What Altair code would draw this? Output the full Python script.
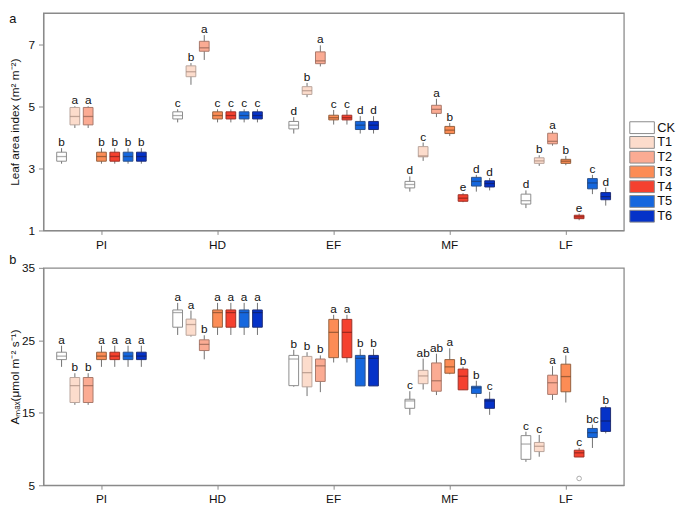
import altair as alt
import pandas as pd

stages = ["PI", "HD", "EF", "MF", "LF"]
treats = ["CK", "T1", "T2", "T3", "T4", "T5", "T6"]
fills = ["#ffffff", "#fcdccc", "#fbab93", "#fc8c55", "#f5412f", "#1567de", "#0532c8"]
edges = ["#8c8c8c", "#b9a49b", "#a8786a", "#94613f", "#9a3127", "#2e5289", "#1f2d74"]
medians = ["#8c8c8c", "#a88a7e", "#8f5f50", "#7d4a2b", "#7d2018", "#1c3a6e", "#101d5c"]

# Leaf area index: [stage][treatment]
lai_lower = [[3.15, 4.30, 4.30, 3.15, 3.15, 3.15, 3.15],
             [4.48, 5.69, 6.49, 4.48, 4.48, 4.48, 4.48],
             [4.12, 5.29, 6.28, 4.41, 4.41, 4.12, 4.12],
             [2.25, 3.24, 4.65, 4.04, 1.91, 2.25, 2.29],
             [1.72, 3.08, 3.73, 3.10, 1.33, 2.17, 1.80]]
lai_q1 = [[3.23, 4.40, 4.40, 3.23, 3.23, 3.23, 3.23],
          [4.59, 5.95, 6.77, 4.59, 4.59, 4.59, 4.59],
          [4.27, 5.38, 6.37, 4.56, 4.56, 4.25, 4.25],
          [2.37, 3.37, 4.77, 4.12, 1.94, 2.43, 2.40],
          [1.85, 3.16, 3.79, 3.16, 1.38, 2.34, 1.99]]
lai_med = [[3.38, 4.67, 4.67, 3.38, 3.38, 3.38, 3.38],
           [4.70, 6.11, 6.88, 4.70, 4.70, 4.70, 4.70],
           [4.39, 5.50, 6.46, 4.63, 4.63, 4.39, 4.39],
           [2.48, 3.40, 4.90, 4.23, 2.04, 2.58, 2.51],
           [1.96, 3.24, 3.87, 3.23, 1.44, 2.53, 2.09]]
lai_q3 = [[3.52, 4.96, 4.96, 3.52, 3.52, 3.52, 3.52],
          [4.82, 6.30, 7.09, 4.82, 4.82, 4.82, 4.82],
          [4.51, 5.63, 6.75, 4.71, 4.71, 4.51, 4.51],
          [2.58, 3.70, 5.03, 4.35, 2.15, 2.71, 2.60],
          [2.17, 3.34, 4.13, 3.29, 1.49, 2.67, 2.22]]
lai_upper = [[3.65, 5.00, 5.00, 3.65, 3.65, 3.65, 3.65],
             [4.90, 6.39, 7.29, 4.90, 4.90, 4.90, 4.90],
             [4.65, 5.75, 6.96, 4.88, 4.88, 4.68, 4.68],
             [2.74, 3.83, 5.24, 4.46, 2.20, 2.79, 2.69],
             [2.29, 3.42, 4.20, 3.40, 1.54, 2.79, 2.38]]
lai_letters = [["b", "a", "a", "b", "b", "b", "b"],
               ["c", "b", "a", "c", "c", "c", "c"],
               ["d", "b", "a", "c", "c", "d", "d"],
               ["d", "c", "a", "b", "e", "d", "d"],
               ["d", "b", "a", "b", "e", "c", "d"]]

# Amax: [stage][treatment]
amax_lower = [[21.34, 16.10, 16.10, 21.34, 21.34, 21.34, 21.34],
              [25.74, 25.51, 22.38, 25.74, 25.74, 25.74, 25.74],
              [18.60, 17.31, 17.85, 21.94, 21.94, 18.71, 18.71],
              [14.72, 18.21, 17.45, 20.32, 18.17, 17.10, 14.72],
              [8.23, 8.94, 16.77, 16.42, 8.90, 10.15, 12.16]]
amax_q1 = [[22.34, 16.42, 16.42, 22.34, 22.34, 22.34, 22.34],
           [26.81, 25.70, 23.59, 26.81, 26.81, 26.81, 26.81],
           [18.75, 18.58, 19.33, 22.61, 22.61, 18.71, 18.71],
           [15.62, 19.02, 17.98, 20.46, 18.17, 17.67, 15.62],
           [8.58, 9.65, 17.54, 17.90, 8.90, 11.59, 12.43]]
amax_med = [[22.82, 18.75, 18.75, 22.82, 22.82, 22.82, 22.82],
            [28.83, 27.18, 24.44, 28.83, 28.83, 28.83, 28.83],
            [22.42, 20.54, 21.48, 26.10, 26.10, 22.51, 22.51],
            [16.64, 20.09, 19.42, 21.34, 20.05, 18.44, 16.64],
            [10.69, 10.38, 19.15, 20.00, 9.48, 12.26, 13.87]]
amax_q3 = [[23.36, 19.87, 19.87, 23.36, 23.36, 23.36, 23.36],
           [29.19, 27.93, 25.07, 29.19, 29.19, 29.19, 29.19],
           [22.92, 22.78, 22.42, 27.89, 27.89, 22.92, 22.92],
           [16.87, 20.86, 21.88, 22.34, 21.03, 18.66, 16.87],
           [11.85, 10.91, 20.19, 21.71, 9.84, 12.84, 15.70]]
amax_upper = [[24.26, 20.46, 20.46, 24.26, 24.26, 24.26, 24.26],
              [30.17, 29.10, 25.70, 30.17, 30.17, 30.17, 30.17],
              [23.70, 23.36, 22.92, 28.52, 28.52, 23.80, 23.80],
              [17.98, 22.47, 23.15, 23.90, 21.34, 19.42, 17.90],
              [12.39, 11.94, 21.44, 22.92, 10.15, 13.37, 15.97]]
amax_letters = [["a", "b", "b", "a", "a", "a", "a"],
                ["a", "a", "b", "a", "a", "a", "a"],
                ["b", "b", "b", "a", "a", "b", "b"],
                ["c", "ab", "ab", "a", "b", "b", "c"],
                ["c", "c", "a", "a", "c", "bc", "b"]]

amax_outlier_stage = ["LF"]
amax_outlier_treat = ["T4"]
amax_outlier_value = [5.94]

FONT = "Liberation Sans"
W = 590
H = 221
AXIS_GRAY = "#8a8a8a"


def make_df(lo, q1, md, q3, hi, let):
    rows = []
    for i, s in enumerate(stages):
        for j, t in enumerate(treats):
            rows.append(dict(stage=s, treat=t, lo=lo[i][j], q1=q1[i][j], md=md[i][j],
                             q3=q3[i][j], hi=hi[i][j], let=let[i][j],
                             edge=edges[j], medc=medians[j]))
    return pd.DataFrame(rows)


def panel(df, ydom, tick_vals, label_expr, ytitle, tag, tag_y, show_legend, outliers=None):
    x = alt.X("stage:N", sort=stages,
              scale=alt.Scale(domain=stages, paddingInner=0, paddingOuter=0),
              axis=alt.Axis(title=None, labelAngle=0, tickSize=4, labelPadding=5,
                            domainColor=AXIS_GRAY, tickColor=AXIS_GRAY,
                            labelFontSize=12, labelFont=FONT, labelColor="#111"))
    xo = alt.XOffset("treat:N", sort=treats,
                     scale=alt.Scale(domain=treats, paddingInner=0.27, paddingOuter=1.0))
    yscale = alt.Scale(domain=ydom, nice=False, zero=False)
    yaxis = alt.Axis(values=tick_vals, labelExpr=label_expr, title=ytitle, grid=False,
                     tickSize=5, labelPadding=4, domainColor=AXIS_GRAY, tickColor=AXIS_GRAY,
                     labelFontSize=12, labelFont=FONT, labelColor="#111",
                     titleFont=FONT, titleFontSize=12, titleFontWeight="normal",
                     titleColor="#111", titleX=-22)
    base = alt.Chart(df).encode(x=x, xOffset=xo)
    whisk = base.mark_rule(color="#707070", strokeWidth=1).encode(
        y=alt.Y("lo:Q", scale=yscale, axis=yaxis), y2="hi:Q")
    if show_legend:
        leg = alt.Legend(title=None, orient="none", legendX=W + 12, legendY=110,
                         symbolType="M-2.08,-1H2.08V1H-2.08Z", symbolSize=144,
                         symbolStrokeColor="#8a8a8a", symbolStrokeWidth=1,
                         symbolOpacity=1, labelFontSize=13, labelFont=FONT,
                         labelColor="#111", labelOffset=9, rowPadding=-3)
    else:
        leg = None
    box = base.mark_bar(strokeWidth=1, opacity=1).encode(
        y="q1:Q", y2="q3:Q",
        color=alt.Color("treat:N", scale=alt.Scale(domain=treats, range=fills), legend=leg),
        stroke=alt.Stroke("edge:N", scale=None))
    med = base.mark_tick(size=10, thickness=1.3).encode(
        y="md:Q", fill=alt.Fill("medc:N", scale=None))
    letters = base.mark_text(baseline="alphabetic", dy=-2, fontSize=12, font=FONT,
                             fill="#111111").encode(y="hi:Q", text="let:N")
    tagc = alt.Chart(pd.DataFrame({"t": [tag]})).mark_text(
        fontSize=13, font=FONT, fill="#111111", align="center", baseline="alphabetic").encode(
        x=alt.value(-31), y=alt.value(tag_y), text="t:N")
    layers = [whisk, box, med, letters, tagc]
    if outliers is not None:
        oc = alt.Chart(outliers).mark_point(shape="circle", filled=False, color="#888888",
                                            size=22, strokeWidth=1).encode(
            x=x, xOffset=xo, y=alt.Y("v:Q", scale=yscale))
        layers.append(oc)
    return alt.layer(*layers).properties(width=W, height=H)


lai_df = make_df(lai_lower, lai_q1, lai_med, lai_q3, lai_upper, lai_letters)
amax_df = make_df(amax_lower, amax_q1, amax_med, amax_q3, amax_upper, amax_letters)
out_df = pd.DataFrame({"stage": amax_outlier_stage, "treat": amax_outlier_treat,
                       "v": amax_outlier_value})

top = panel(lai_df, [1, 8], [1, 2, 3, 4, 5, 6, 7],
            "datum.value % 2 == 1 ? datum.label : ''",
            "Leaf area index (m² m⁻²)", "a", 10, True)
bottom = panel(amax_df, [5, 35], [5, 10, 15, 20, 25, 30, 35],
               "(datum.value - 5) % 10 == 0 ? datum.label : ''",
               "Aₘₐₓ(μmol m⁻² s⁻¹)", "b", -4, False, out_df)

chart = alt.vconcat(top, bottom, spacing=2).resolve_scale(
    color="independent").resolve_legend(color="independent").configure_view(
    stroke=AXIS_GRAY, strokeWidth=1.3).properties(
    padding={"left": 0, "top": 0, "right": 0, "bottom": 0},
    autosize=alt.AutoSizeParams(type="pad"), background="white")

chart.save("out.html", embed_options={"renderer": "svg", "actions": False})
